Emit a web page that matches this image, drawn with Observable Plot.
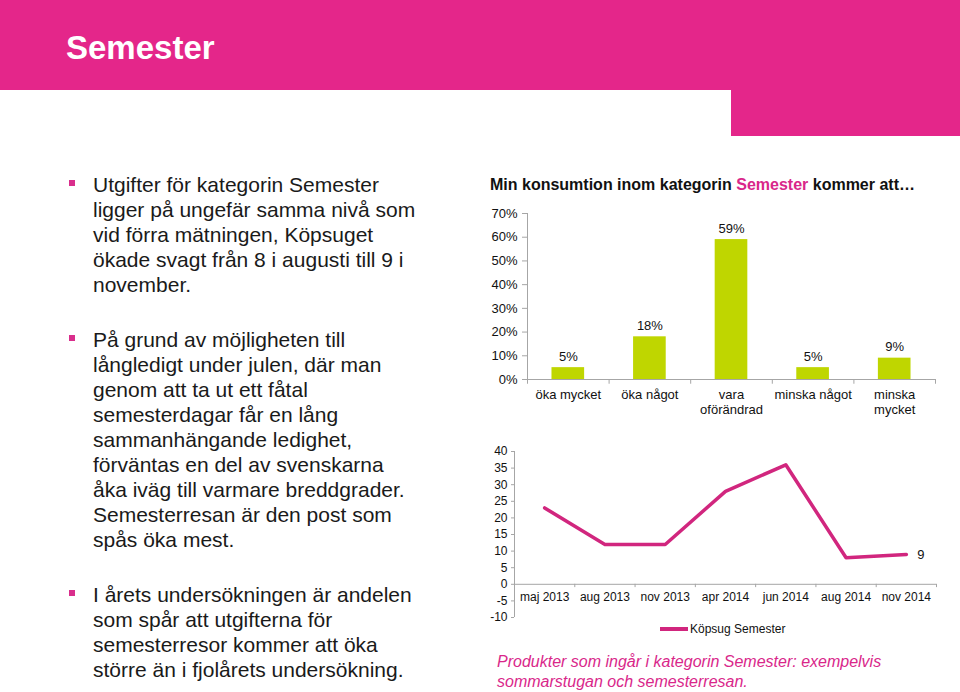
<!DOCTYPE html>
<html>
<head>
<meta charset="utf-8">
<script src="https://cdn.jsdelivr.net/npm/d3@7"></script>
<script src="https://cdn.jsdelivr.net/npm/@observablehq/plot@0.6"></script>
<style>
  html, body { margin: 0; padding: 0; background: #fff; }
  body { width: 960px; height: 692px; position: relative; overflow: hidden; font-family: "Liberation Sans", Arial, sans-serif; }
  .pink { position: absolute; background: #E4268A; }
  #title { position: absolute; left: 66px; top: 28px; font-size: 33px; font-weight: bold; color: #fff; line-height: 40px; }
  #bullets { position: absolute; left: 93px; top: 172px; font-size: 21px; line-height: 25px; color: #1a1a1a; white-space: nowrap; }
  #bullets p { margin: 0 0 30px 0; position: relative; }
  #bullets p::before { content: ""; position: absolute; left: -24px; top: 8px; width: 6px; height: 6px; background: #D92E8C; }
  #charttitle { position: absolute; left: 490px; top: 175px; font-size: 16px; font-weight: bold; line-height: 20px; color: #111; white-space: nowrap; }
  #charttitle span { color: #D9278A; }
  #bar { position: absolute; left: 480px; top: 200px; }
  #line { position: absolute; left: 480px; top: 440px; }
  #legend { position: absolute; left: 660px; top: 620px; height: 18px; font-size: 12px; line-height: 18px; color: #111; white-space: nowrap; }
  #legend i { display: inline-block; width: 28px; height: 3.5px; background: #D1267E; vertical-align: middle; margin-right: 2px; position: relative; top: -1px; }
  #caption { position: absolute; left: 497px; top: 652px; font-size: 16px; line-height: 19.5px; font-style: italic; color: #D9278A; white-space: nowrap; }
</style>
</head>
<body>
<div class="pink" style="left:0;top:0;width:960px;height:90px;"></div>
<div class="pink" style="left:731px;top:89px;width:229px;height:47px;"></div>
<div id="title">Semester</div>

<div id="bullets">
  <p>Utgifter för kategorin Semester<br>ligger på ungefär samma nivå som<br>vid förra mätningen, Köpsuget<br>ökade svagt från 8 i augusti till 9 i<br>november.</p>
  <p>På grund av möjligheten till<br>långledigt under julen, där man<br>genom att ta ut ett fåtal<br>semesterdagar får en lång<br>sammanhängande ledighet,<br>förväntas en del av svenskarna<br>åka iväg till varmare breddgrader.<br>Semesterresan är den post som<br>spås öka mest.</p>
  <p>I årets undersökningen är andelen<br>som spår att utgifterna för<br>semesterresor kommer att öka<br>större än i fjolårets undersökning.</p>
</div>

<div id="charttitle">Min konsumtion inom kategorin <span>Semester</span> kommer att…</div>
<div id="bar"></div>
<div id="line"></div>
<div id="legend"><i></i>Köpsug Semester</div>
<div id="caption">Produkter som ingår i kategorin Semester: exempelvis<br>sommarstugan och semesterresan.</div>

<script>
// ---- Data ----
const barCategories = ["öka mycket", "öka något", "vara\noförändrad", "minska något", "minska\nmycket"];
const barValues = [5, 18, 59, 5, 9];
const barTicks = [0, 10, 20, 30, 40, 50, 60, 70];

const months = ["maj 2013", "aug 2013", "nov 2013", "apr 2014", "jun 2014", "aug 2014", "nov 2014"];
const kopsug = [23, 12, 12, 28, 36, 8, 9];
const lineTicks = [-10, -5, 0, 5, 10, 15, 20, 25, 30, 35, 40];

const AXIS = "#a6a6a6";
const BAR = "#BFD600";
const LINE = "#D1267E";
const FONT = "'Liberation Sans', Arial, sans-serif";

// ---- Bar chart ----
const barData = barCategories.map((c, i) => ({i, c, v: barValues[i]}));
const bar = Plot.plot({
  width: 470, height: 230,
  marginTop: 13, marginBottom: 51, marginLeft: 47, marginRight: 15,
  x: {domain: [0, barCategories.length], axis: null},
  y: {domain: [0, 70], axis: null},
  style: {fontFamily: FONT, fontSize: "13px", color: "#111", background: "transparent", overflow: "visible"},
  marks: [
    Plot.rectY(barData, {x1: d => d.i + 0.3, x2: d => d.i + 0.7, y1: 0, y2: d => d.v, fill: BAR}),
    Plot.ruleX([0], {y1: 0, y2: 70, stroke: AXIS}),
    Plot.ruleX(d3.range(barCategories.length + 1), {x: d => d, y1: 0, y2: -2, stroke: AXIS}),
    Plot.ruleY([0], {stroke: AXIS}),
    Plot.axisY(barTicks, {tickSize: 5, tickPadding: 5, tickFormat: d => d + "%", stroke: AXIS, fill: "#111", fontSize: 13, label: null}),
    Plot.text(barData, {x: d => d.i + 0.5, y: d => d.v, text: d => d.v + "%", lineAnchor: "bottom", dy: -7, fill: "#111", fontSize: 13}),
    Plot.text(barData, {x: d => d.i + 0.5, y: 0, text: d => d.c, lineAnchor: "top", dy: 9, lineHeight: 1.15, fill: "#111", fontSize: 13})
  ]
});
document.getElementById("bar").append(bar);

// ---- Line chart ----
const lineData = months.map((m, i) => ({i, m, v: kopsug[i]}));
const line = Plot.plot({
  width: 470, height: 190,
  marginTop: 11, marginBottom: 13, marginLeft: 34, marginRight: 14,
  x: {domain: [0, months.length], axis: null},
  y: {domain: [-10, 40], axis: null},
  style: {fontFamily: FONT, fontSize: "12px", color: "#111", background: "transparent", overflow: "visible"},
  marks: [
    Plot.ruleX([0], {y1: -10, y2: 40, stroke: AXIS}),
    Plot.ruleX(d3.range(1, months.length + 1), {x: d => d, y1: 0, y2: -1, stroke: AXIS}),
    Plot.ruleY([0], {stroke: AXIS}),
    Plot.axisY(lineTicks, {tickSize: 3, tickPadding: 4, tickFormat: d => String(d), stroke: AXIS, fill: "#111", fontSize: 12, label: null}),
    Plot.text(lineData, {x: d => d.i + 0.5, y: 0, text: d => d.m, lineAnchor: "top", dy: 8, fill: "#111", fontSize: 12}),
    Plot.line(lineData, {x: d => d.i + 0.5, y: d => d.v, stroke: LINE, strokeWidth: 3.5}),
    Plot.text(lineData.slice(-1), {x: d => d.i + 0.5, y: d => d.v, text: d => String(d.v), textAnchor: "start", dx: 11, fill: "#111", fontSize: 13})
  ]
});
document.getElementById("line").append(line);
</script>
</body>
</html>
